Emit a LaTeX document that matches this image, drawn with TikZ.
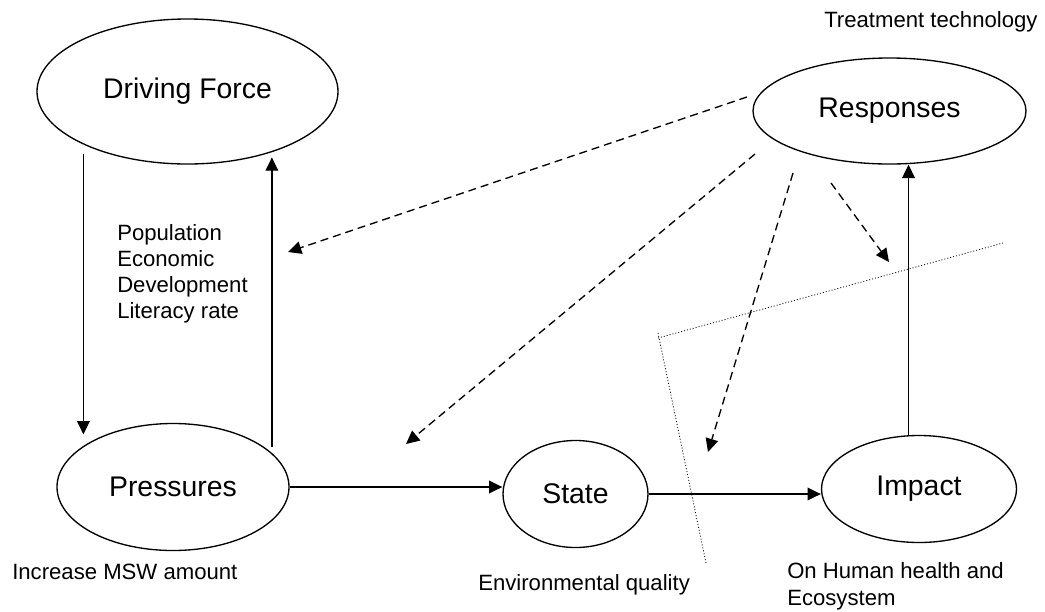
\documentclass[tikz,border=0pt]{standalone}
\usepackage{fontspec}
\setmainfont{Liberation Sans}
\usetikzlibrary{shapes.geometric,arrows.meta}
\begin{document}
\begin{tikzpicture}[x=0.75pt,y=0.75pt,yscale=-1,xscale=1,
  blob/.style={draw,ellipse,line width=1pt,inner sep=0pt,font=\fontsize{21.3}{25}\selectfont},
  note/.style={inner sep=0pt,anchor=base west,align=left,font=\fontsize{16.6}{19.5}\selectfont},
  arr/.style={line width=1pt,-{Triangle[length=10pt,width=9.5pt]}},
  darr/.style={arr,dash pattern=on 6pt off 3.75pt},
  dotline/.style={line width=0.6pt,dash pattern=on 0.75pt off 1.5pt}]
\path[use as bounding box] (0,0) rectangle (1045,611);

%Shape: Ellipse
\node[blob,minimum width=225.75pt,minimum height=108.75pt] (drv) at (187.5,91.5) {Driving Force};
\node[blob,minimum width=204.75pt,minimum height=79.5pt] (rsp) at (889.5,111) {Responses};
\node[blob,minimum width=174pt,minimum height=95.25pt] (prs) at (173,487) {Pressures};
\node[blob,minimum width=108.75pt,minimum height=80.25pt] (stt) at (575.5,494) {State};
\node[blob,minimum width=146.25pt,minimum height=80.25pt] (imp) at (919,489) {Impact};

%Text
\node[note] (txtTreat) at (824,27) {Treatment technology};
\node[note] (txtPop) at (117,318) {Population\\Economic\\Development\\Literacy rate};
\node[note] (txtMsw) at (12,579) {Increase MSW amount};
\node[note] (txtEnv) at (478,590) {Environmental quality};
\node[note,font=\fontsize{16.6}{20.25}\selectfont] (txtHealth) at (787,605) {On Human health and\\Ecosystem};

%Straight Lines
\draw[arr,shorten <=6.75pt,shorten >=7.5pt] (drv.207.8) -- (prs.154.2 -| drv.207.8);
\draw[arr,shorten <=4.5pt,shorten >=3.75pt] (prs.19.7) -- (drv.-36.3 -| prs.19.7);
\draw[arr] (prs.east) -- (prs.east -| stt.west);
\draw[arr] (stt.east) -- (stt.east -| imp.west);
\draw[arr] (imp.101.7) -- (rsp.south -| imp.101.7);

%Dashed Lines
\coordinate (r1) at (747,97);  \coordinate (e1) at (288,252);
\coordinate (r2) at (755,154); \coordinate (e2) at (406,444);
\coordinate (r3) at (793,173); \coordinate (e3) at (708,452);
\coordinate (r4) at (831,183); \coordinate (e4) at (889,262);
\foreach \i in {1,...,4} {
  \draw[darr] (r\i) -- (e\i);
}

%Dotted Lines
\draw[dotline] (658,333) -- (706,563);
\draw[dotline] (658,338) -- (1003,243);

\end{tikzpicture}
\end{document}
